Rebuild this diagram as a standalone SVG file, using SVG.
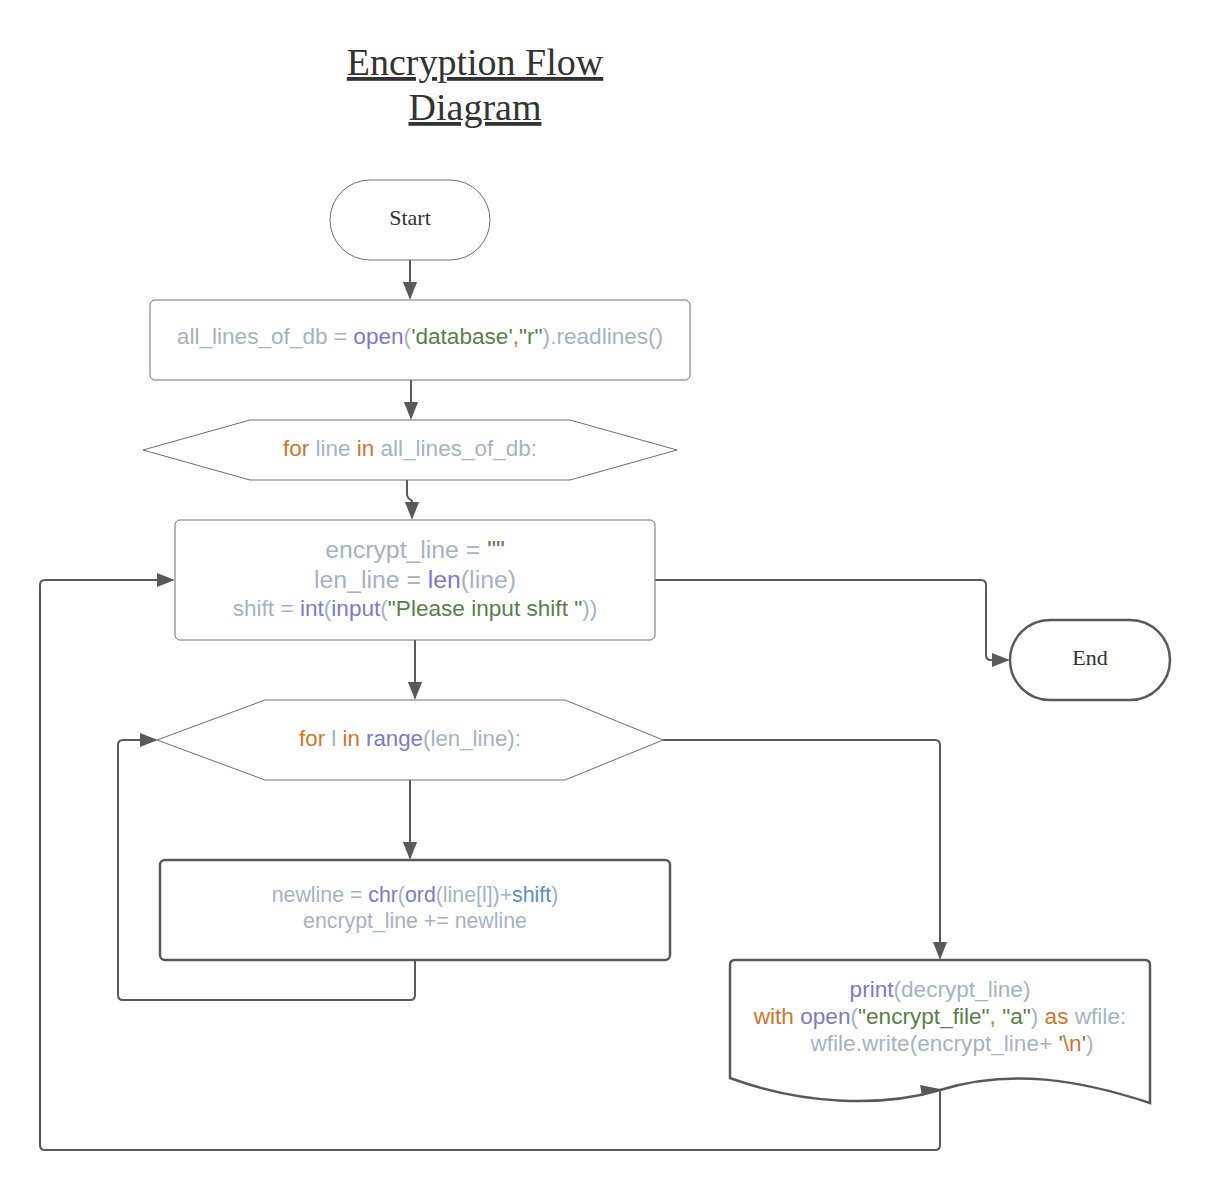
<svg xmlns="http://www.w3.org/2000/svg" width="1210" height="1190" viewBox="0 0 1210 1190">
<style>
.bg{fill:#ffffff}
.thin{fill:#ffffff;stroke:#6e6e6e;stroke-width:1}
.thick{fill:#ffffff;stroke:#595959;stroke-width:2.5}
.conn{fill:none;stroke:#595959;stroke-width:2}
.serif{font-family:"Liberation Serif","Times New Roman",serif;fill:#333333}
.code{font-family:"Liberation Sans",Arial,sans-serif;fill:#a3b3c5;text-anchor:middle}
.p{fill:#7b7bc8}
.g{fill:#5b7f48}
.o{fill:#d0762c}
.b{fill:#5b90c0}
</style>
<defs>
<marker id="arrL" viewBox="0 0 10 10" refX="9" refY="5" markerWidth="18" markerHeight="18" markerUnits="userSpaceOnUse" orient="auto">
<path d="M0,1 L10,5 L0,9 z" fill="#595959"/>
</marker>
</defs>
<rect class="bg" x="0" y="0" width="1210" height="1190"/>

<g id="title">
<text class="serif" x="475" y="75" font-size="38" text-anchor="middle" text-decoration="underline">Encryption Flow</text>
<text class="serif" x="475" y="120" font-size="38" text-anchor="middle" text-decoration="underline">Diagram</text>
</g>

<g id="connectors">
<path class="conn" d="M410,260 L410,298" marker-end="url(#arrL)"/>
<path class="conn" d="M411,380 L411,418" stroke-width="3" marker-end="url(#arrL)"/>
<path class="conn" d="M407,480 L407,494 Q407,498 411,500 L412,501 L412,518" marker-end="url(#arrL)"/>
<path class="conn" d="M655,580 L981,580 Q986,580 986,585 L986,655 Q986,660 991,660 L1008,660" marker-end="url(#arrL)"/>
<path class="conn" d="M415,640 L415,698" marker-end="url(#arrL)"/>
<path class="conn" d="M410,780 L410,858" marker-end="url(#arrL)"/>
<path class="conn" d="M415,960 L415,995 Q415,1000 410,1000 L123,1000 Q118,1000 118,995 L118,745 Q118,740 123,740 L156,740" marker-end="url(#arrL)"/>
<path class="conn" d="M663,740 L935,740 Q940,740 940,745 L940,958" marker-end="url(#arrL)"/>
<path class="conn" d="M940,1090 L940,1145 Q940,1150 935,1150 L45,1150 Q40,1150 40,1145 L40,585 Q40,580 45,580 L173,580" marker-end="url(#arrL)"/>
</g>

<g id="start">
<rect class="thin" x="330" y="180" width="160" height="80" rx="40" ry="40"/>
<text class="serif" x="410" y="225" font-size="22" text-anchor="middle">Start</text>
</g>

<g id="readlines">
<rect class="thin" x="150" y="300" width="540" height="80" rx="5" ry="5"/>
<text class="code" x="420" y="344" font-size="22.6">all_lines_of_db = <tspan class="p">open</tspan>(<tspan class="g">'database'</tspan><tspan class="o">,</tspan><tspan class="g">"r"</tspan>).readlines()</text>
</g>

<g id="for-line">
<polygon class="thin" points="143,450 250,420 570,420 677,450 570,480 250,480"/>
<text class="code" x="410" y="456" font-size="22.5"><tspan class="o">for</tspan> line <tspan class="o">in</tspan> all_lines_of_db:</text>
</g>

<g id="init">
<rect class="thin" x="175" y="520" width="480" height="120" rx="5" ry="5"/>
<text class="code" x="415" y="558" font-size="24.8">encrypt_line = <tspan class="g">""</tspan></text>
<text class="code" x="415" y="588" font-size="24.8">len_line = <tspan class="p">len</tspan>(line)</text>
<text class="code" x="415" y="616" font-size="22.6">shift = <tspan class="p">int</tspan>(<tspan class="p">input</tspan>(<tspan class="g">"Please input shift "</tspan>))</text>
</g>

<g id="end">
<rect class="thick" x="1010" y="620" width="160" height="80" rx="40" ry="40"/>
<text class="serif" x="1090" y="665" font-size="22" text-anchor="middle">End</text>
</g>

<g id="for-i">
<polygon class="thin" points="157,740 265,700 565,700 663,740 565,780 265,780"/>
<text class="code" x="410" y="746" font-size="22.3"><tspan class="o">for</tspan> l <tspan class="o">in</tspan> <tspan class="p">range</tspan>(len_line):</text>
</g>

<g id="shift-char">
<rect class="thick" x="160" y="860" width="510" height="100" rx="5" ry="5"/>
<text class="code" x="415" y="902" font-size="21.3">newline = <tspan class="p">chr</tspan>(<tspan class="p">ord</tspan>(line[l])+<tspan class="b">shift</tspan>)</text>
<text class="code" x="415" y="928" font-size="21.3">encrypt_line += newline</text>
</g>

<g id="write">
<path class="thick" d="M730,1078 L730,965 Q730,960 735,960 L1145,960 Q1150,960 1150,965 L1150,1103 C1080,1080 1010,1068 940,1090 C880,1108 800,1104 730,1078 Z"/>
<path d="M920,1085 L940,1089 L922,1096 Z" fill="#595959"/>
<text class="code" x="940" y="997" font-size="22.6"><tspan class="p">print</tspan>(decrypt_line)</text>
<text class="code" x="940" y="1024" font-size="22.6"><tspan class="o">with</tspan> <tspan class="p">open</tspan>(<tspan class="g">"encrypt_file"</tspan><tspan class="o">,</tspan> <tspan class="g">"a"</tspan>) <tspan class="o">as</tspan> wfile:</text>
<text class="code" x="952" y="1051" font-size="22.6">wfile.write(encrypt_line+ <tspan class="g">'</tspan><tspan class="o">\n</tspan><tspan class="g">'</tspan>)</text>
</g>
</svg>
